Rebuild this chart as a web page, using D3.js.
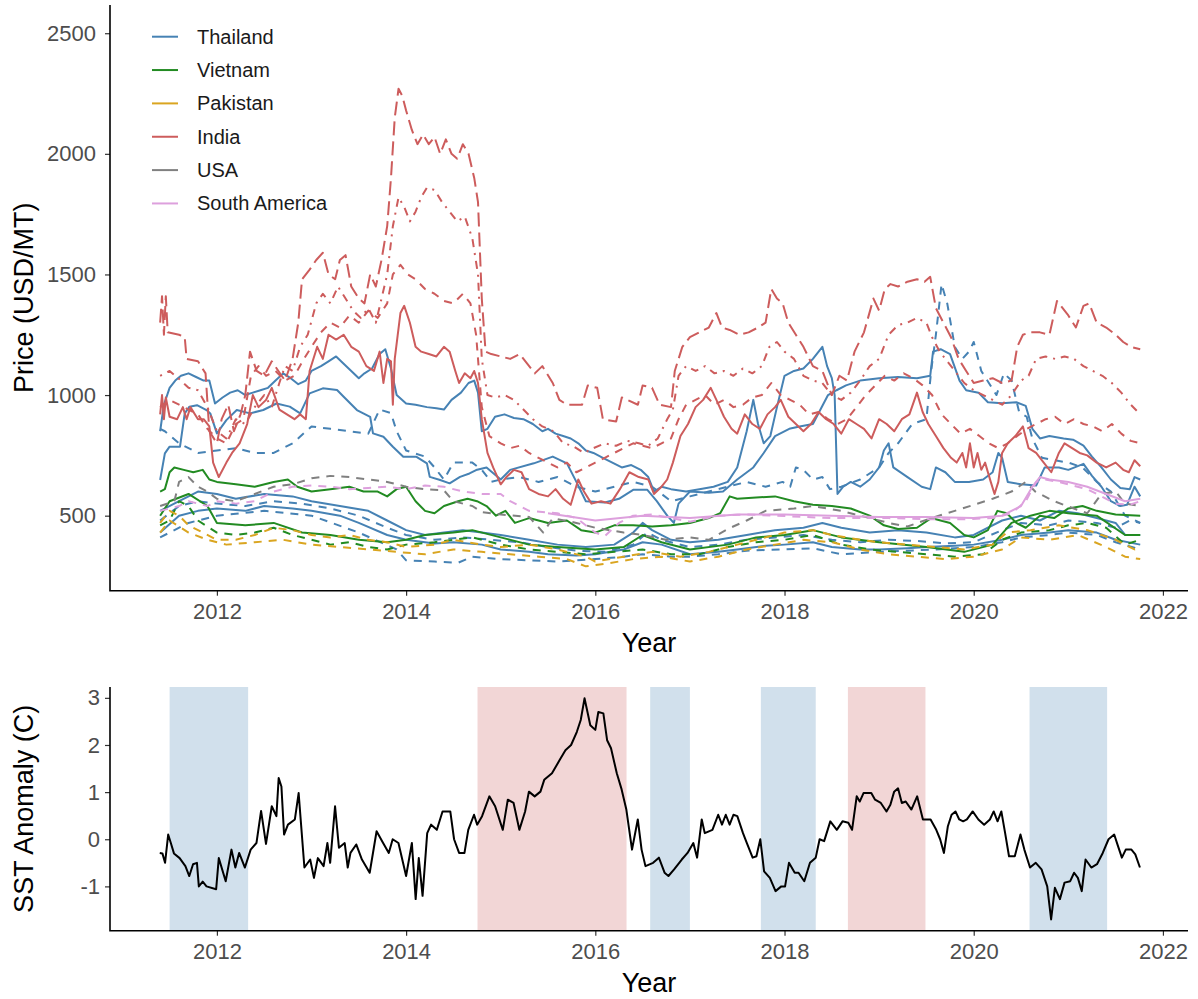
<!DOCTYPE html>
<html>
<head>
<meta charset="utf-8">
<script src="https://cdn.jsdelivr.net/npm/d3@7"></script>
<style>
  body { margin: 0; background: #fff; }
  svg text { font-family: "Liberation Sans", Arial, Helvetica, sans-serif; }
</style>
</head>
<body>
<svg id="chart" width="1198" height="999"></svg>
<script>
// ---- data: [decimal year, USD/MT] ----
const thaiHomMali = [[2011.40,850],[2011.44,960],[2011.50,1030],[2011.56,1060],[2011.62,1080],[2011.70,1090],[2011.78,1075],[2011.86,1060],[2011.92,1060],[2011.98,965],[2012.06,990],[2012.14,1010],[2012.22,1020],[2012.30,1000],[2012.38,1010],[2012.46,1020],[2012.54,1030],[2012.62,1060],[2012.70,1090],[2012.78,1070],[2012.86,1045],[2012.94,1060],[2013.00,1100],[2013.10,1120],[2013.18,1140],[2013.26,1160],[2013.34,1130],[2013.42,1100],[2013.50,1070],[2013.56,1090],[2013.64,1110],[2013.72,1170],[2013.78,1190],[2013.84,1110],[2013.90,1000],[2014.00,965],[2014.10,960],[2014.22,950],[2014.32,945],[2014.40,940],[2014.48,980],[2014.58,1010],[2014.66,1050],[2014.72,1060],[2014.76,1010],[2014.80,850],[2014.86,860],[2014.94,910],[2015.04,920],[2015.14,905],[2015.24,900],[2015.34,880],[2015.44,850],[2015.50,860],[2015.58,840],[2015.66,830],[2015.74,820],[2015.82,800],[2015.90,770],[2015.98,760],[2016.08,740],[2016.18,720],[2016.28,700],[2016.38,710],[2016.48,690],[2016.56,660],[2016.62,600],[2016.70,620],[2016.80,610],[2016.96,600],[2017.10,610],[2017.25,620],[2017.40,640],[2017.50,700],[2017.60,850],[2017.67,980],[2017.72,880],[2017.78,800],[2017.85,830],[2017.92,950],[2018.00,1080],[2018.10,1100],[2018.20,1110],[2018.30,1150],[2018.40,1200],[2018.45,1120],[2018.50,1070],[2018.53,1000],[2018.56,590],[2018.62,620],[2018.70,640],[2018.80,620],[2018.90,650],[2019.00,700],[2019.05,770],[2019.10,800],[2019.15,700],[2019.30,660],[2019.45,620],[2019.54,610],[2019.60,700],[2019.70,680],[2019.80,640],[2019.95,640],[2020.10,650],[2020.20,680],[2020.26,760],[2020.30,740],[2020.36,640],[2020.50,630],[2020.66,625],[2020.75,700],[2020.90,700],[2021.00,690],[2021.16,715],[2021.25,665],[2021.35,620],[2021.45,560],[2021.55,540],[2021.62,545],[2021.70,620],[2021.76,580]];
const thaiPathum = [[2011.40,648],[2011.45,758],[2011.50,786],[2011.61,786],[2011.66,924],[2011.71,952],[2011.79,958],[2011.89,938],[2011.93,924],[2012.00,841],[2012.10,896],[2012.21,938],[2012.35,924],[2012.49,938],[2012.63,965],[2012.77,952],[2012.88,924],[2012.98,1007],[2013.12,1028],[2013.27,1021],[2013.34,993],[2013.48,938],[2013.62,910],[2013.65,841],[2013.76,827],[2013.86,786],[2013.97,744],[2014.11,744],[2014.22,717],[2014.25,661],[2014.36,648],[2014.46,634],[2014.57,661],[2014.67,675],[2014.74,689],[2014.85,700],[2015.00,650],[2015.10,690],[2015.35,717],[2015.55,745],[2015.70,717],[2015.80,640],[2015.90,560],[2016.10,555],[2016.25,570],[2016.40,607],[2016.55,607],[2016.65,560],[2016.76,500],[2016.83,470],[2016.88,550],[2017.00,600],[2017.20,595],[2017.35,600],[2017.50,650],[2017.67,700],[2017.78,760],[2017.90,830],[2018.05,860],[2018.16,870],[2018.30,880],[2018.38,940],[2018.46,1000],[2018.55,1020],[2018.65,1040],[2018.80,1060],[2019.00,1070],[2019.20,1075],[2019.40,1070],[2019.54,1080],[2019.57,1180],[2019.65,1190],[2019.75,1170],[2019.85,1060],[2019.92,1020],[2020.05,1010],[2020.15,970],[2020.30,966],[2020.45,970],[2020.55,955],[2020.62,860],[2020.70,820],[2020.80,830],[2020.95,820],[2021.05,815],[2021.16,790],[2021.25,745],[2021.35,700],[2021.45,650],[2021.55,615],[2021.65,610],[2021.70,660],[2021.76,650]];
const thaiFragrantB = [[2011.40,860],[2011.45,850],[2011.60,800],[2011.80,760],[2012.00,770],[2012.20,780],[2012.40,760],[2012.60,760],[2012.80,800],[2013.00,870],[2013.20,860],[2013.40,850],[2013.60,840],[2013.72,940],[2013.84,925],[2013.90,850],[2014.00,770],[2014.20,745],[2014.30,700],[2014.40,650],[2014.50,720],[2014.70,720],[2014.80,690],[2014.90,640],[2015.00,650],[2015.20,660],[2015.40,640],[2015.60,660],[2015.80,620],[2016.00,600],[2016.20,620],[2016.40,640],[2016.60,620],[2016.80,560],[2017.00,580],[2017.20,600],[2017.40,620],[2017.60,640],[2017.80,620],[2017.98,640],[2018.06,620],[2018.12,700],[2018.20,690],[2018.30,650],[2018.40,660],[2018.48,610],[2018.60,620],[2018.80,650],[2019.00,700],[2019.10,760],[2019.20,800],[2019.35,880],[2019.50,900],[2019.55,1100],[2019.60,1250],[2019.66,1460],[2019.72,1380],[2019.80,1200],[2019.88,1150],[2019.95,1180],[2020.00,1220],[2020.08,1100],[2020.16,1050],[2020.24,1000],[2020.32,1090],[2020.40,1060],[2020.48,930],[2020.56,910],[2020.62,820],[2020.72,740],[2020.85,730],[2021.00,720],[2021.15,700],[2021.30,640],[2021.45,600],[2021.60,500],[2021.76,470]];
const thai5 = [[2011.40,520],[2011.60,560],[2011.80,600],[2012.00,590],[2012.20,570],[2012.50,590],[2012.80,580],[2013.00,560],[2013.30,540],[2013.60,520],[2013.80,480],[2014.00,440],[2014.20,420],[2014.40,430],[2014.60,440],[2014.80,430],[2015.00,420],[2015.30,400],[2015.60,380],[2015.90,370],[2016.20,380],[2016.40,430],[2016.50,470],[2016.60,440],[2016.80,400],[2017.00,390],[2017.30,400],[2017.60,420],[2017.90,440],[2018.20,450],[2018.40,470],[2018.60,450],[2018.90,430],[2019.20,440],[2019.50,430],[2019.80,410],[2020.00,420],[2020.30,480],[2020.50,500],[2020.70,480],[2020.90,520],[2021.10,510],[2021.30,490],[2021.50,470],[2021.60,420],[2021.76,420]];
const thai5B = [[2011.40,480],[2011.60,540],[2011.80,560],[2012.00,550],[2012.30,540],[2012.60,560],[2012.90,550],[2013.20,530],[2013.50,500],[2013.80,450],[2014.00,420],[2014.30,400],[2014.60,410],[2014.90,400],[2015.20,390],[2015.50,370],[2015.80,355],[2016.10,350],[2016.40,380],[2016.55,430],[2016.70,400],[2017.00,370],[2017.30,380],[2017.60,400],[2017.90,410],[2018.20,420],[2018.50,400],[2018.80,390],[2019.10,400],[2019.40,395],[2019.70,385],[2020.00,390],[2020.30,440],[2020.50,470],[2020.80,460],[2021.00,480],[2021.30,470],[2021.50,450],[2021.65,480],[2021.76,470]];
const thai25 = [[2011.40,430],[2011.60,500],[2011.80,520],[2012.00,530],[2012.30,520],[2012.50,540],[2012.80,530],[2013.00,520],[2013.30,500],[2013.50,470],[2013.80,420],[2014.00,400],[2014.30,385],[2014.50,390],[2014.80,380],[2015.00,360],[2015.30,350],[2015.50,340],[2015.80,335],[2016.00,340],[2016.30,360],[2016.50,390],[2016.70,380],[2017.00,340],[2017.30,350],[2017.50,360],[2017.80,375],[2018.00,380],[2018.30,390],[2018.50,370],[2018.80,360],[2019.00,360],[2019.30,365],[2019.50,370],[2019.80,375],[2020.00,380],[2020.30,400],[2020.50,420],[2020.80,430],[2021.00,440],[2021.30,430],[2021.50,400],[2021.76,380]];
const thaiParboiled = [[2011.40,410],[2011.70,470],[2012.00,500],[2012.50,520],[2013.00,500],[2013.50,430],[2013.90,360],[2014.00,315],[2014.30,310],[2014.55,305],[2014.70,330],[2015.00,320],[2015.30,315],[2015.60,310],[2016.00,320],[2016.30,330],[2016.50,340],[2016.80,330],[2017.00,330],[2017.30,340],[2017.60,355],[2018.00,360],[2018.30,365],[2018.60,340],[2019.00,350],[2019.30,355],[2019.60,360],[2020.00,370],[2020.30,390],[2020.50,410],[2020.80,420],[2021.00,430],[2021.30,420],[2021.50,390],[2021.76,360]];

const vietFragrant = [[2011.40,600],[2011.45,610],[2011.50,680],[2011.55,700],[2011.65,690],[2011.75,680],[2011.85,690],[2011.92,650],[2012.00,640],[2012.20,630],[2012.40,620],[2012.60,640],[2012.75,650],[2012.85,620],[2013.00,600],[2013.20,610],[2013.40,620],[2013.55,600],[2013.70,600],[2013.80,580],[2013.90,610],[2014.00,620],[2014.10,560],[2014.20,520],[2014.30,510],[2014.40,540],[2014.55,560],[2014.65,570],[2014.75,560],[2014.85,540],[2014.95,500],[2015.05,520],[2015.15,470],[2015.30,490],[2015.50,470],[2015.70,480],[2015.85,440],[2016.00,430],[2016.20,460],[2016.40,460],[2016.60,455],[2016.80,460],[2017.00,470],[2017.20,490],[2017.32,510],[2017.42,580],[2017.50,570],[2017.70,575],[2017.90,580],[2018.10,560],[2018.30,545],[2018.50,540],[2018.70,530],[2018.90,500],[2019.05,460],[2019.20,445],[2019.40,450],[2019.55,490],[2019.75,470],[2019.90,420],[2020.00,410],[2020.15,440],[2020.25,520],[2020.35,510],[2020.45,470],[2020.55,450],[2020.70,500],[2020.85,490],[2021.00,530],[2021.15,540],[2021.30,520],[2021.50,505],[2021.76,500]];
const viet5 = [[2011.40,500],[2011.50,560],[2011.70,590],[2011.90,540],[2012.00,470],[2012.30,460],[2012.60,470],[2012.90,430],[2013.20,420],[2013.50,400],[2013.80,390],[2014.00,400],[2014.20,420],[2014.50,430],[2014.70,440],[2015.00,410],[2015.30,380],[2015.60,370],[2016.00,360],[2016.30,370],[2016.50,420],[2016.70,390],[2017.00,360],[2017.40,380],[2017.70,410],[2018.00,420],[2018.30,440],[2018.60,410],[2019.00,390],[2019.50,370],[2019.90,350],[2020.20,380],[2020.40,470],[2020.60,500],[2020.80,520],[2021.00,510],[2021.30,500],[2021.60,420],[2021.76,420]];
const viet25 = [[2011.40,460],[2011.50,480],[2011.60,560],[2011.70,540],[2011.80,480],[2012.00,430],[2012.20,420],[2012.40,430],[2012.60,450],[2012.80,420],[2013.00,400],[2013.20,380],[2013.40,390],[2013.60,370],[2013.80,360],[2014.00,380],[2014.30,390],[2014.50,400],[2014.70,410],[2015.00,380],[2015.30,360],[2015.60,350],[2015.90,340],[2016.20,350],[2016.50,360],[2016.80,340],[2017.10,340],[2017.40,370],[2017.70,390],[2018.00,400],[2018.30,420],[2018.60,380],[2018.90,360],[2019.20,350],[2019.50,340],[2019.80,330],[2020.10,340],[2020.30,400],[2020.50,430],[2020.80,440],[2021.00,460],[2021.20,470],[2021.40,450],[2021.60,380],[2021.76,400]];

const pakIrri = [[2011.40,470],[2011.50,520],[2011.60,500],[2011.70,460],[2011.85,430],[2012.00,400],[2012.20,400],[2012.40,420],[2012.60,450],[2012.80,440],[2013.00,420],[2013.20,410],[2013.40,420],[2013.60,400],[2013.80,390],[2014.00,370],[2014.30,380],[2014.50,400],[2014.80,380],[2015.00,370],[2015.30,380],[2015.60,360],[2015.90,330],[2016.00,310],[2016.30,330],[2016.60,350],[2016.90,330],[2017.20,350],[2017.50,380],[2017.80,410],[2018.00,430],[2018.30,440],[2018.50,420],[2018.80,400],[2019.00,390],[2019.30,380],[2019.60,370],[2019.90,360],[2020.20,380],[2020.35,430],[2020.60,440],[2020.90,460],[2021.20,440],[2021.50,400],[2021.70,360],[2021.76,370]];
const pakIrri25 = [[2011.40,430],[2011.50,480],[2011.70,430],[2011.90,400],[2012.10,380],[2012.40,390],[2012.70,400],[2013.00,380],[2013.30,370],[2013.60,360],[2013.90,350],[2014.20,340],[2014.50,360],[2014.80,350],[2015.10,340],[2015.40,330],[2015.70,320],[2015.90,290],[2016.10,300],[2016.40,320],[2016.70,330],[2017.00,310],[2017.30,330],[2017.60,360],[2017.90,380],[2018.20,400],[2018.50,390],[2018.80,360],[2019.10,340],[2019.40,330],[2019.70,320],[2020.00,330],[2020.30,360],[2020.50,410],[2020.80,400],[2021.10,420],[2021.40,370],[2021.60,330],[2021.76,320]];

const indiaBasmati = [[2011.40,1300],[2011.42,1410],[2011.44,1250],[2011.46,1410],[2011.48,1260],[2011.60,1250],[2011.66,1240],[2011.68,1150],[2011.80,1140],[2011.88,1090],[2011.92,850],[2012.00,800],[2012.05,900],[2012.12,960],[2012.18,850],[2012.25,920],[2012.30,1000],[2012.35,1180],[2012.42,1100],[2012.50,1080],[2012.58,1140],[2012.65,1100],[2012.72,1060],[2012.80,1150],[2012.86,1300],[2012.90,1480],[2012.98,1520],[2013.05,1560],[2013.12,1590],[2013.18,1500],[2013.25,1480],[2013.30,1560],[2013.36,1580],[2013.42,1450],[2013.50,1400],[2013.56,1380],[2013.62,1500],[2013.68,1450],[2013.74,1560],[2013.80,1700],[2013.84,1900],[2013.88,2150],[2013.92,2270],[2013.96,2240],[2014.00,2180],[2014.06,2100],[2014.12,2040],[2014.18,2080],[2014.24,2040],[2014.30,2070],[2014.36,2000],[2014.42,2060],[2014.48,2000],[2014.54,1980],[2014.60,2040],[2014.66,2000],[2014.72,1900],[2014.76,1800],[2014.80,1400],[2014.84,1180],[2014.90,1170],[2015.00,1160],[2015.10,1150],[2015.20,1170],[2015.28,1130],[2015.36,1090],[2015.44,1120],[2015.55,1050],[2015.62,980],[2015.70,960],[2015.86,960],[2015.92,1040],[2016.02,1030],[2016.08,900],[2016.22,890],[2016.28,990],[2016.45,960],[2016.50,1040],[2016.60,1030],[2016.68,960],[2016.80,950],[2016.84,1100],[2016.92,1200],[2017.00,1240],[2017.10,1260],[2017.20,1280],[2017.28,1340],[2017.34,1280],[2017.42,1270],[2017.52,1250],[2017.62,1260],[2017.72,1280],[2017.80,1300],[2017.86,1440],[2017.92,1400],[2017.98,1380],[2018.04,1300],[2018.12,1250],[2018.20,1200],[2018.30,1120],[2018.40,1100],[2018.50,1000],[2018.58,1080],[2018.66,1060],[2018.74,1180],[2018.84,1260],[2018.94,1400],[2019.00,1350],[2019.06,1440],[2019.12,1460],[2019.20,1450],[2019.30,1470],[2019.40,1480],[2019.48,1470],[2019.54,1490],[2019.60,1360],[2019.68,1300],[2019.76,1240],[2019.84,1150],[2019.92,1100],[2020.00,1050],[2020.10,1060],[2020.20,1070],[2020.30,1050],[2020.40,1060],[2020.46,1200],[2020.52,1250],[2020.60,1260],[2020.70,1260],[2020.80,1250],[2020.88,1390],[2020.94,1360],[2021.00,1330],[2021.08,1280],[2021.16,1370],[2021.22,1380],[2021.30,1300],[2021.40,1280],[2021.50,1250],[2021.58,1220],[2021.66,1200],[2021.76,1190]];
const indiaPusa = [[2011.40,1080],[2011.50,1100],[2011.62,1060],[2011.70,1030],[2011.80,1020],[2011.90,950],[2012.00,850],[2012.10,820],[2012.20,900],[2012.30,880],[2012.40,950],[2012.50,1000],[2012.58,950],[2012.66,1050],[2012.72,1120],[2012.80,1100],[2012.88,1200],[2012.96,1250],[2013.05,1380],[2013.12,1420],[2013.20,1380],[2013.28,1450],[2013.36,1400],[2013.44,1350],[2013.52,1320],[2013.60,1360],[2013.68,1300],[2013.74,1400],[2013.80,1500],[2013.86,1700],[2013.92,1820],[2013.98,1780],[2014.04,1720],[2014.10,1760],[2014.16,1820],[2014.22,1860],[2014.30,1850],[2014.38,1800],[2014.46,1760],[2014.54,1720],[2014.62,1740],[2014.70,1650],[2014.76,1500],[2014.80,1150],[2014.86,1000],[2014.94,990],[2015.04,1000],[2015.14,980],[2015.24,940],[2015.34,900],[2015.44,870],[2015.56,850],[2015.66,800],[2015.76,790],[2015.88,760],[2015.98,780],[2016.10,800],[2016.22,790],[2016.34,810],[2016.46,800],[2016.56,790],[2016.66,820],[2016.76,900],[2016.82,940],[2016.88,1080],[2016.96,1120],[2017.06,1100],[2017.16,1120],[2017.26,1090],[2017.36,1100],[2017.46,1080],[2017.56,1110],[2017.66,1090],[2017.76,1120],[2017.84,1200],[2017.92,1220],[2018.00,1180],[2018.10,1150],[2018.20,1080],[2018.30,1060],[2018.40,1050],[2018.50,1000],[2018.60,980],[2018.70,1010],[2018.80,1060],[2018.90,1120],[2019.00,1150],[2019.10,1250],[2019.20,1290],[2019.30,1300],[2019.40,1320],[2019.50,1300],[2019.56,1240],[2019.64,1180],[2019.72,1140],[2019.80,1100],[2019.90,1050],[2020.00,1020],[2020.10,1000],[2020.20,980],[2020.30,960],[2020.40,1000],[2020.50,1060],[2020.58,1080],[2020.66,1150],[2020.76,1160],[2020.86,1150],[2020.96,1160],[2021.06,1150],[2021.16,1120],[2021.26,1100],[2021.36,1080],[2021.46,1050],[2021.56,1010],[2021.66,960],[2021.76,920]];
const indiaSella = [[2011.40,950],[2011.50,980],[2011.60,960],[2011.70,940],[2011.80,920],[2011.90,860],[2012.00,820],[2012.10,800],[2012.20,880],[2012.28,900],[2012.36,1080],[2012.44,1120],[2012.52,1080],[2012.62,1100],[2012.72,1060],[2012.82,1080],[2012.92,1150],[2013.00,1200],[2013.10,1260],[2013.20,1300],[2013.30,1280],[2013.40,1330],[2013.50,1300],[2013.60,1350],[2013.70,1320],[2013.80,1380],[2013.86,1500],[2013.94,1540],[2014.02,1500],[2014.10,1480],[2014.20,1440],[2014.30,1420],[2014.40,1390],[2014.50,1380],[2014.60,1420],[2014.68,1380],[2014.74,1250],[2014.80,950],[2014.88,830],[2015.00,800],[2015.10,780],[2015.20,790],[2015.30,760],[2015.40,740],[2015.50,720],[2015.60,700],[2015.70,720],[2015.80,680],[2015.90,700],[2016.00,720],[2016.10,740],[2016.20,760],[2016.30,780],[2016.40,800],[2016.50,790],[2016.60,780],[2016.70,800],[2016.80,820],[2016.88,900],[2016.96,960],[2017.06,980],[2017.16,1000],[2017.26,960],[2017.36,980],[2017.46,950],[2017.56,960],[2017.66,990],[2017.76,1000],[2017.86,1050],[2017.96,1000],[2018.06,980],[2018.16,960],[2018.26,920],[2018.36,930],[2018.46,900],[2018.56,880],[2018.66,900],[2018.76,950],[2018.86,1000],[2018.96,1040],[2019.06,1080],[2019.16,1060],[2019.26,1090],[2019.36,1070],[2019.46,1040],[2019.56,1000],[2019.66,920],[2019.76,880],[2019.86,840],[2019.96,860],[2020.06,830],[2020.16,800],[2020.26,780],[2020.36,800],[2020.46,830],[2020.56,860],[2020.66,880],[2020.76,900],[2020.86,910],[2020.96,880],[2021.06,900],[2021.16,880],[2021.26,870],[2021.36,850],[2021.46,880],[2021.56,840],[2021.66,810],[2021.76,800]];
const india25 = [[2011.40,920],[2011.42,1000],[2011.44,900],[2011.46,990],[2011.50,910],[2011.58,900],[2011.64,950],[2011.68,900],[2011.72,950],[2011.80,900],[2011.86,900],[2011.92,870],[2011.96,720],[2012.02,660],[2012.10,720],[2012.16,760],[2012.24,800],[2012.32,880],[2012.38,1000],[2012.44,950],[2012.52,980],[2012.58,1030],[2012.66,940],[2012.74,920],[2012.82,900],[2012.88,920],[2012.94,900],[2012.98,1100],[2013.06,1200],[2013.12,1150],[2013.18,1250],[2013.26,1230],[2013.34,1250],[2013.42,1200],[2013.50,1180],[2013.58,1120],[2013.66,1100],[2013.72,1180],[2013.76,1050],[2013.80,1150],[2013.84,1140],[2013.86,960],[2013.88,1150],[2013.94,1340],[2013.98,1370],[2014.04,1300],[2014.10,1200],[2014.16,1180],[2014.24,1170],[2014.32,1160],[2014.40,1200],[2014.46,1180],[2014.52,1100],[2014.56,1050],[2014.62,1090],[2014.68,1070],[2014.72,1100],[2014.76,1050],[2014.80,900],[2014.86,760],[2014.92,700],[2015.00,630],[2015.06,660],[2015.14,690],[2015.22,680],[2015.30,610],[2015.40,590],[2015.50,580],[2015.58,610],[2015.66,570],[2015.74,545],[2015.82,650],[2015.88,600],[2015.96,550],[2016.06,560],[2016.16,550],[2016.26,610],[2016.36,680],[2016.46,660],[2016.56,650],[2016.62,590],[2016.70,620],[2016.76,650],[2016.82,720],[2016.90,830],[2016.98,880],[2017.06,950],[2017.14,980],[2017.22,1030],[2017.28,980],[2017.36,910],[2017.44,860],[2017.50,840],[2017.58,920],[2017.66,880],[2017.74,860],[2017.82,920],[2017.90,950],[2017.96,980],[2018.04,910],[2018.12,880],[2018.20,850],[2018.28,880],[2018.36,930],[2018.44,900],[2018.52,880],[2018.60,840],[2018.68,900],[2018.76,880],[2018.84,860],[2018.92,820],[2019.00,900],[2019.08,880],[2019.16,850],[2019.24,900],[2019.32,920],[2019.40,1010],[2019.46,930],[2019.52,880],[2019.60,830],[2019.68,780],[2019.76,740],[2019.82,720],[2019.88,760],[2019.92,700],[2019.96,800],[2020.00,700],[2020.04,760],[2020.08,690],[2020.12,720],[2020.18,640],[2020.22,590],[2020.26,640],[2020.30,760],[2020.36,800],[2020.44,830],[2020.52,870],[2020.58,780],[2020.66,760],[2020.74,720],[2020.82,680],[2020.90,760],[2020.96,800],[2021.04,780],[2021.12,760],[2021.20,750],[2021.30,720],[2021.40,700],[2021.50,720],[2021.58,690],[2021.64,680],[2021.70,730],[2021.76,705]];

const usaLongGrain = [[2011.40,540],[2011.55,560],[2011.60,640],[2011.70,660],[2011.80,620],[2011.90,600],[2012.00,570],[2012.20,560],[2012.40,590],[2012.60,620],[2012.80,630],[2013.00,655],[2013.20,665],[2013.40,660],[2013.60,650],[2013.80,640],[2014.00,620],[2014.20,610],[2014.40,605],[2014.50,560],[2014.70,540],[2014.80,515],[2015.00,505],[2015.30,495],[2015.45,430],[2015.55,490],[2015.80,470],[2016.00,450],[2016.30,430],[2016.50,420],[2016.75,400],[2017.00,410],[2017.20,400],[2017.40,445],[2017.60,480],[2017.80,520],[2018.10,530],[2018.30,540],[2018.60,520],[2018.90,490],[2019.10,470],[2019.30,455],[2019.55,490],[2019.80,520],[2020.00,545],[2020.20,570],[2020.40,600],[2020.55,640],[2020.65,600],[2020.85,560],[2021.00,538],[2021.20,510],[2021.35,590],[2021.50,600],[2021.60,550],[2021.76,540]];

const saUruguay = [[2011.40,520],[2011.50,530],[2011.60,540],[2011.70,560],[2011.80,550],[2011.90,540],[2012.00,560],[2012.20,550],[2012.40,560],[2012.60,600],[2012.80,620],[2013.00,625],[2013.20,620],[2013.40,610],[2013.60,615],[2013.80,620],[2014.00,610],[2014.20,625],[2014.40,620],[2014.60,600],[2014.80,590],[2015.00,590],[2015.10,560],[2015.30,520],[2015.60,510],[2015.80,490],[2016.00,430],[2016.10,415],[2016.25,470],[2016.40,500],[2016.60,505],[2016.80,490],[2017.00,475],[2017.30,500],[2017.60,505],[2017.90,500],[2018.20,495],[2018.50,490],[2018.80,490],[2019.10,490],[2019.50,485],[2019.90,485],[2020.20,490],[2020.40,510],[2020.55,560],[2020.66,640],[2020.75,650],[2020.90,640],[2021.00,630],[2021.20,610],[2021.35,580],[2021.50,550],[2021.65,545],[2021.76,560]];
const saBrazil = [[2015.50,510],[2016.00,480],[2016.50,500],[2017.00,490],[2017.50,505],[2018.00,505],[2018.50,500],[2019.00,495],[2019.50,495],[2020.00,490],[2020.30,500],[2020.50,540],[2020.62,620],[2020.70,660],[2020.80,650],[2021.00,640],[2021.20,620],[2021.40,590],[2021.60,560],[2021.76,570]];

const countries = ['Thailand', 'Vietnam', 'Pakistan', 'India', 'USA', 'South America'];
const countryColors = ['#4682B4', '#228B22', '#DAA520', '#CD5C5C', '#808080', '#DDA0DD'];

const priceSeries = [
  { country: 'Thailand', type: 'solid', values: thaiPathum },
  { country: 'Thailand', type: 'solid', values: thaiHomMali },
  { country: 'Thailand', type: 'dashed', values: thaiFragrantB },
  { country: 'Thailand', type: 'solid', values: thai5 },
  { country: 'Thailand', type: 'dashed', values: thai5B },
  { country: 'Thailand', type: 'solid', values: thai25 },
  { country: 'Thailand', type: 'dashed', values: thaiParboiled },
  { country: 'Vietnam', type: 'solid', values: vietFragrant },
  { country: 'Vietnam', type: 'solid', values: viet5 },
  { country: 'Vietnam', type: 'dashed', values: viet25 },
  { country: 'Pakistan', type: 'dashed', values: pakIrri },
  { country: 'Pakistan', type: 'dashed', values: pakIrri25 },
  { country: 'India', type: 'solid', values: india25 },
  { country: 'India', type: 'dashed', values: indiaSella },
  { country: 'India', type: 'dotdash', values: indiaPusa },
  { country: 'India', type: 'longdash', values: indiaBasmati },
  { country: 'USA', type: 'dashed', values: usaLongGrain },
  { country: 'South America', type: 'dashed', values: saUruguay },
  { country: 'South America', type: 'solid', values: saBrazil }
];

// ---- SST anomaly: [decimal year, degrees C] ----
const sstAnomaly = [[2011.396,-0.29],[2011.424,-0.30],[2011.452,-0.50],[2011.485,0.10],[2011.513,-0.08],[2011.546,-0.30],[2011.606,-0.40],[2011.667,-0.57],[2011.708,-0.78],[2011.748,-0.53],[2011.789,-0.50],[2011.809,-1.00],[2011.850,-0.90],[2011.890,-1.00],[2011.992,-1.06],[2012.020,-0.40],[2012.093,-0.89],[2012.154,-0.22],[2012.195,-0.60],[2012.235,-0.29],[2012.296,-0.60],[2012.357,-0.22],[2012.418,-0.08],[2012.467,0.60],[2012.519,-0.10],[2012.580,0.70],[2012.629,0.49],[2012.653,1.30],[2012.682,1.12],[2012.710,0.10],[2012.751,0.31],[2012.824,0.42],[2012.864,0.98],[2012.925,-0.60],[2012.986,-0.43],[2013.026,-0.82],[2013.067,-0.40],[2013.128,-0.57],[2013.168,-0.08],[2013.197,-0.50],[2013.249,0.70],[2013.290,-0.18],[2013.351,-0.08],[2013.383,-0.60],[2013.412,-0.29],[2013.473,-0.11],[2013.533,-0.43],[2013.615,-0.71],[2013.688,0.17],[2013.757,-0.08],[2013.817,-0.29],[2013.858,0.00],[2013.919,-0.08],[2014.000,-0.78],[2014.061,-0.08],[2014.101,-1.27],[2014.134,-0.40],[2014.174,-1.20],[2014.223,0.13],[2014.264,0.31],[2014.325,0.20],[2014.385,0.59],[2014.467,0.59],[2014.507,0.00],[2014.560,-0.29],[2014.617,-0.29],[2014.657,0.20],[2014.718,0.52],[2014.751,0.31],[2014.803,0.49],[2014.880,0.91],[2014.941,0.70],[2015.022,0.20],[2015.075,0.84],[2015.136,0.77],[2015.197,0.20],[2015.258,0.59],[2015.298,1.01],[2015.359,0.91],[2015.420,1.01],[2015.460,1.26],[2015.542,1.40],[2015.623,1.68],[2015.684,1.89],[2015.744,2.00],[2015.805,2.28],[2015.846,2.53],[2015.886,2.99],[2015.947,2.42],[2016.000,2.32],[2016.032,2.70],[2016.085,2.67],[2016.125,2.10],[2016.166,1.93],[2016.227,1.40],[2016.275,1.08],[2016.328,0.63],[2016.388,-0.22],[2016.449,0.42],[2016.489,-0.22],[2016.530,-0.57],[2016.611,-0.50],[2016.672,-0.39],[2016.732,-0.71],[2016.773,-0.78],[2016.833,-0.64],[2016.914,-0.43],[2016.975,-0.29],[2017.036,-0.08],[2017.076,-0.39],[2017.125,0.42],[2017.157,0.13],[2017.238,0.20],[2017.299,0.52],[2017.339,0.31],[2017.379,0.52],[2017.420,0.31],[2017.460,0.52],[2017.501,0.49],[2017.561,0.13],[2017.602,-0.08],[2017.663,-0.39],[2017.703,-0.36],[2017.744,0.00],[2017.784,-0.68],[2017.845,-0.82],[2017.905,-1.10],[2017.966,-1.00],[2018.006,-1.00],[2018.047,-0.50],[2018.108,-0.71],[2018.148,-0.71],[2018.209,-0.89],[2018.269,-0.50],[2018.330,-0.39],[2018.371,0.00],[2018.419,-0.04],[2018.484,0.38],[2018.553,0.20],[2018.613,0.38],[2018.674,0.35],[2018.714,0.20],[2018.763,0.91],[2018.795,0.80],[2018.835,0.98],[2018.917,0.98],[2018.957,0.84],[2019.018,0.77],[2019.078,0.59],[2019.119,0.73],[2019.159,1.01],[2019.200,1.08],[2019.240,0.77],[2019.281,0.80],[2019.341,0.63],[2019.402,0.91],[2019.463,0.42],[2019.544,0.42],[2019.604,0.20],[2019.645,0.00],[2019.685,-0.29],[2019.726,0.27],[2019.766,0.52],[2019.807,0.59],[2019.847,0.42],[2019.888,0.38],[2019.928,0.42],[2019.989,0.59],[2020.049,0.42],[2020.110,0.31],[2020.171,0.42],[2020.211,0.59],[2020.252,0.38],[2020.292,0.59],[2020.332,0.13],[2020.373,-0.36],[2020.434,-0.36],[2020.494,0.10],[2020.535,-0.22],[2020.595,-0.60],[2020.656,-0.50],[2020.717,-0.64],[2020.777,-1.00],[2020.818,-1.70],[2020.858,-1.03],[2020.911,-1.27],[2020.960,-0.92],[2021.020,-0.89],[2021.061,-0.71],[2021.101,-0.82],[2021.142,-1.10],[2021.182,-0.43],[2021.243,-0.60],[2021.303,-0.53],[2021.364,-0.29],[2021.425,0.00],[2021.485,0.10],[2021.526,-0.15],[2021.566,-0.39],[2021.607,-0.22],[2021.667,-0.22],[2021.708,-0.32],[2021.757,-0.60]];

// ENSO phases: [start, end]
const laNinaPeriods = [[2011.50, 2012.33], [2016.58, 2017.00], [2017.75, 2018.33], [2020.59, 2021.41]];
const elNinoPeriods = [[2014.755, 2016.33], [2018.67, 2019.49]];

const yearTicks = [2012, 2014, 2016, 2018, 2020, 2022];
const priceTicks = [500, 1000, 1500, 2000, 2500];
const sstTicks = [-1, 0, 1, 2, 3];

// ---- layout ----
const dashes = { solid: null, dashed: '8,7', longdash: '14,6', dotdash: '2,6,8,6' };
const svg = d3.select('#chart');
svg.append('rect').attr('width', 1198).attr('height', 999).attr('fill', '#fff');

const x = d3.scaleLinear().domain([2010.87, 2022.265]).range([110, 1188]);
const yPrice = d3.scaleLinear().domain([189, 2617]).range([590.7, 5]);
const ySst = d3.scaleLinear().domain([-1.94, 3.23]).range([930.7, 687]);
const color = d3.scaleOrdinal().domain(countries).range(countryColors);
const plain = d => String(d);   // no thousands separator, ascii minus

function drawAxes(y, yTickVals, labelPad, yTitle) {
  const [yBottom, yTop] = y.range();
  const xa = svg.append('g')
    .attr('transform', `translate(0,${yBottom})`)
    .call(d3.axisBottom(x).tickValues(yearTicks).tickFormat(plain).tickSize(5).tickPadding(8));
  const ya = svg.append('g')
    .attr('transform', 'translate(110,0)')
    .call(d3.axisLeft(y).tickValues(yTickVals).tickFormat(plain).tickSize(5).tickPadding(labelPad));
  [xa, ya].forEach(g => {
    g.select('.domain').remove();
    g.selectAll('line').attr('stroke', '#333').attr('stroke-width', 1.2);
    g.selectAll('text').attr('fill', '#4d4d4d').style('font-size', '22px');
  });
  // axis lines (theme_classic style)
  svg.append('path')
    .attr('d', `M110,${yTop}V${yBottom}H1188`)
    .attr('fill', 'none').attr('stroke', '#000').attr('stroke-width', 1.6);

  svg.append('text')
    .attr('x', 649).attr('y', yBottom + 61)
    .attr('text-anchor', 'middle')
    .style('font-size', '27px').attr('fill', '#000')
    .text('Year');
  svg.append('text')
    .attr('transform', `translate(33,${(yTop + yBottom) / 2}) rotate(-90)`)
    .attr('text-anchor', 'middle')
    .style('font-size', '27px').attr('fill', '#000')
    .text(yTitle);
}

// ---- top panel: prices ----
const priceLine = d3.line().x(d => x(d[0])).y(d => yPrice(d[1]));
svg.append('g').selectAll('path')
  .data(priceSeries)
  .join('path')
    .attr('d', d => priceLine(d.values))
    .attr('fill', 'none')
    .attr('stroke', d => color(d.country))
    .attr('stroke-width', 2)
    .attr('stroke-linejoin', 'round')
    .attr('stroke-dasharray', d => dashes[d.type]);

drawAxes(yPrice, priceTicks, 9, 'Price (USD/MT)');

const legend = svg.append('g').selectAll('g')
  .data(countries)
  .join('g')
    .attr('transform', (d, i) => `translate(0,${36.7 + i * 33.35})`);
legend.append('line')
  .attr('x1', 152).attr('x2', 178)
  .attr('stroke', d => color(d)).attr('stroke-width', 2);
legend.append('text')
  .attr('x', 197).attr('dy', '0.35em')
  .style('font-size', '20px').attr('fill', '#1a1a1a')
  .text(d => d);

// ---- bottom panel: SST anomaly ----
const [sstBottom, sstTop] = ySst.range();
svg.append('g').selectAll('rect')
  .data(laNinaPeriods.map(p => ({ p, c: 'rgba(70,130,180,0.25)' }))
    .concat(elNinoPeriods.map(p => ({ p, c: 'rgba(205,92,92,0.25)' }))))
  .join('rect')
    .attr('x', d => x(d.p[0]))
    .attr('width', d => x(d.p[1]) - x(d.p[0]))
    .attr('y', sstTop)
    .attr('height', sstBottom - sstTop)
    .attr('fill', d => d.c);

svg.append('path')
  .datum(sstAnomaly)
  .attr('d', d3.line().x(d => x(d[0])).y(d => ySst(d[1])))
  .attr('fill', 'none')
  .attr('stroke', '#000')
  .attr('stroke-width', 2)
  .attr('stroke-linejoin', 'round');

drawAxes(ySst, sstTicks, 5, 'SST Anomaly (C)');
</script>
</body>
</html>
